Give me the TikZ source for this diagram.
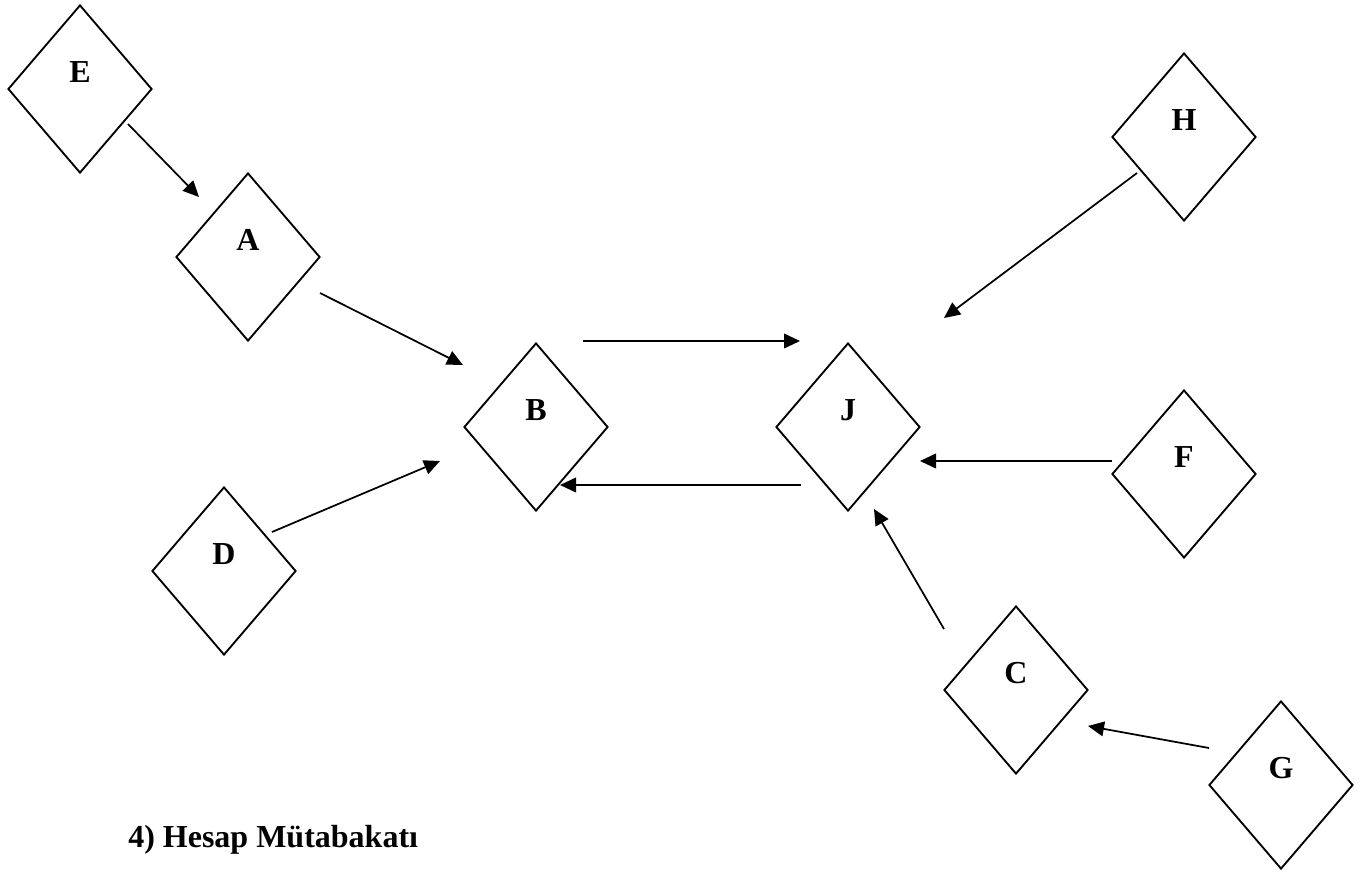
\documentclass[tikz,border=0pt]{standalone}
\usepackage{fontspec}
\setmainfont{Liberation Serif}
\usetikzlibrary{shapes.geometric,arrows.meta}
\begin{document}
\begin{tikzpicture}[x=0.75pt,y=-0.75pt,
  dia/.style={draw,line width=1.4pt,shape=diamond,inner sep=0pt,minimum width=108pt,minimum height=126pt,line join=miter},
  lab/.style={font=\fontsize{24}{28}\selectfont\bfseries,inner sep=0pt,anchor=center},
  arr/.style={line width=1.3pt,-{Triangle[length=12pt,width=11pt]}}]
\useasboundingbox (0,0) rectangle (1368,875);
\node[dia] (E) at (80,89) {};
\node[dia] (A) at (248,257) {};
\node[dia] (B) at (536,427) {};
\node[dia] (J) at (848,427) {};
\node[dia] (D) at (224,571) {};
\node[dia] (H) at (1184,137) {};
\node[dia] (F) at (1184,474) {};
\node[dia] (C) at (1016,690) {};
\node[dia] (G) at (1281,785) {};
\foreach \n in {E,A,B,J,D,H,F,C,G}{
  \node[lab] (l\n) at ([yshift=12.75pt]\n.center) {\n};
}
\coordinate (ea1) at (128,124); \coordinate (ea2) at (199,197);
\coordinate (ab1) at (320,293); \coordinate (ab2) at (463,365);
\coordinate (db1) at (272,532); \coordinate (db2) at (440,461);
\coordinate (bj1) at (583,341); \coordinate (bj2) at (800,341);
\coordinate (jb1) at (801,485); \coordinate (jb2) at (560,485);
\coordinate (hj1) at (1137,173); \coordinate (hj2) at (944,318);
\coordinate (fj1) at (1112,461); \coordinate (fj2) at (920,461);
\coordinate (cj1) at (944,629); \coordinate (cj2) at (874,509);
\coordinate (gc1) at (1209,748); \coordinate (gc2) at (1088,726);
\draw[arr] (ea1) -- (ea2);
\draw[arr] (ab1) -- (ab2);
\draw[arr] (db1) -- (db2);
\draw[arr] (bj1) -- (bj2);
\draw[arr] (jb1) -- (jb2);
\draw[arr] (hj1) -- (hj2);
\draw[arr] (fj1) -- (fj2);
\draw[arr] (cj1) -- (cj2);
\draw[arr] (gc1) -- (gc2);
\node[font=\fontsize{24}{28}\selectfont\bfseries,inner sep=0pt,anchor=base west] (title) at (128,847) {4) Hesap Mütabakatı};
\end{tikzpicture}
\end{document}
